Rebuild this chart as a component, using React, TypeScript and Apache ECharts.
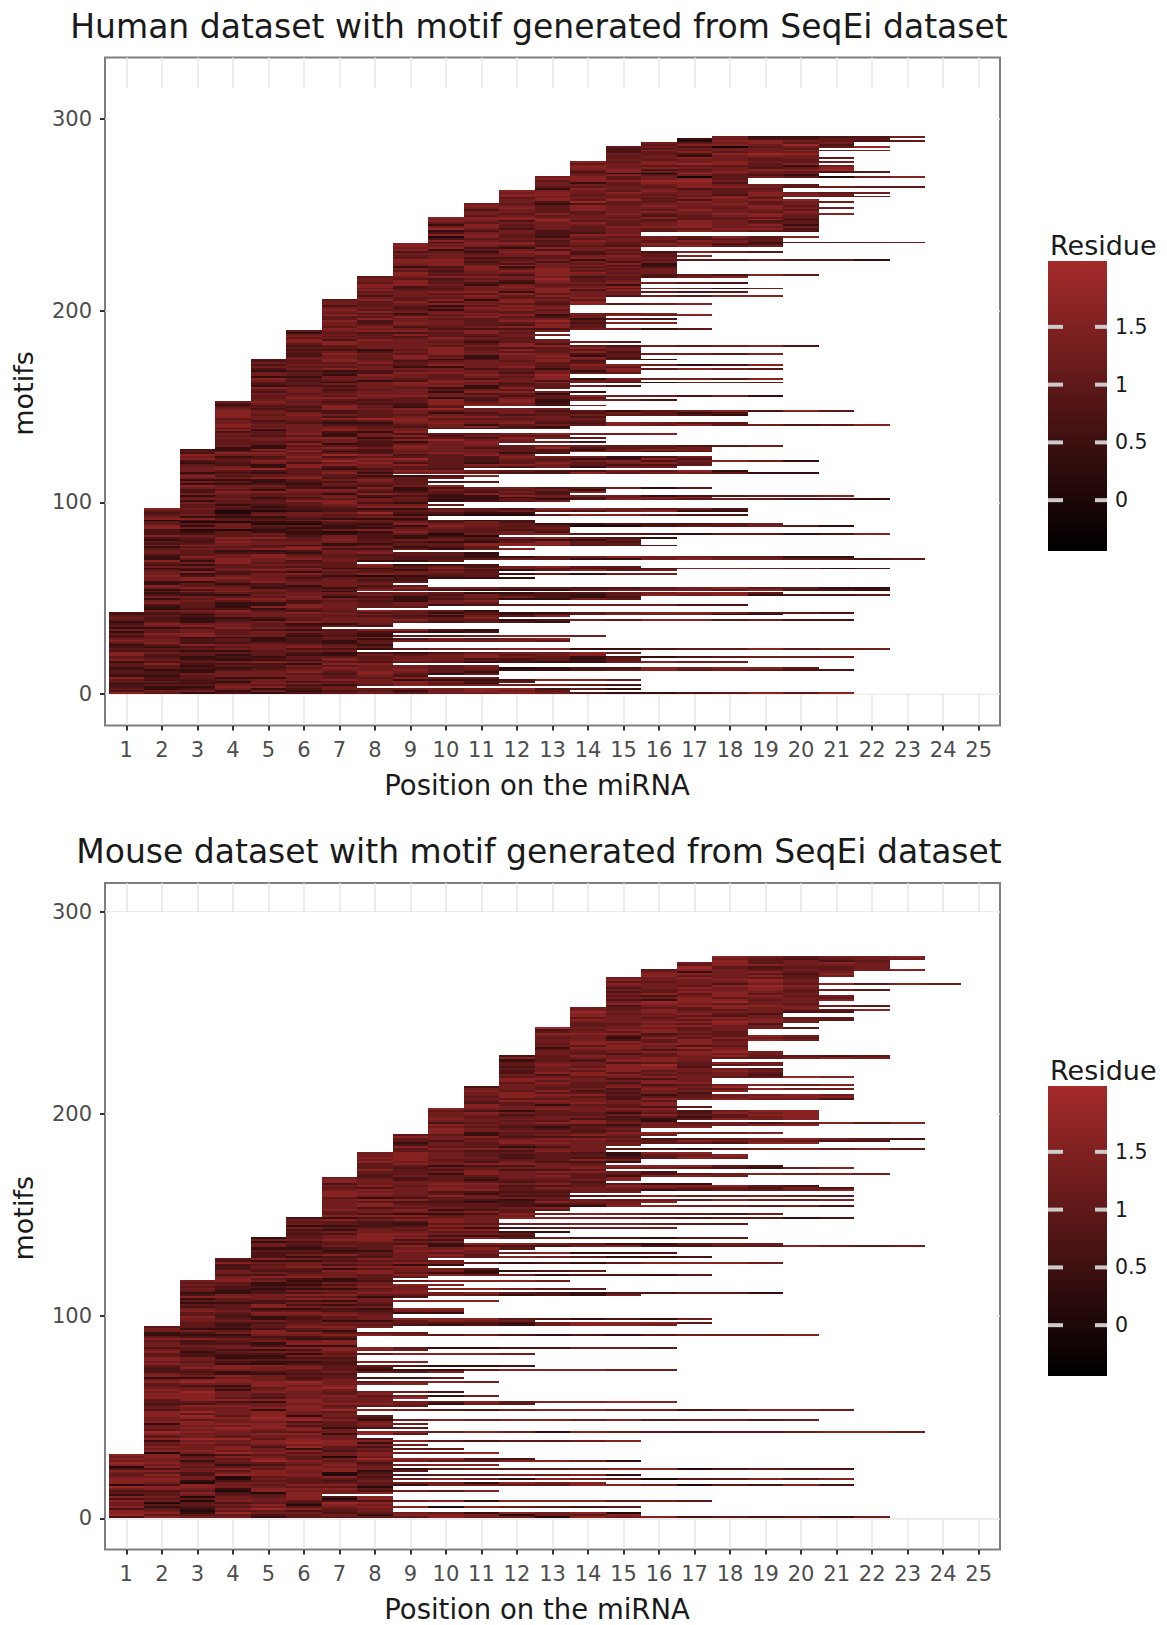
import React, { useEffect, useRef } from "react";
import * as echarts from "echarts";

const positions = [1, 2, 3, 4, 5, 6, 7, 8, 9, 10, 11, 12, 13, 14, 15, 16, 17, 18, 19, 20, 21, 22, 23, 24, 25];
const yTicks = [0, 100, 200, 300];
const legendTicks = [0, 0.5, 1, 1.5];

// number of rows (from y = 0) in which each position can be filled
const humanTops = [43, 97, 128, 153, 175, 190, 206, 218, 235, 249, 256, 263, 270, 278, 286, 288, 290, 291, 291, 291, 291, 291, 291];
const mouseTops = [32, 95, 118, 129, 139, 149, 169, 181, 190, 203, 214, 229, 243, 253, 268, 272, 275, 278, 278, 278, 278, 278, 278, 278];

// last filled position of every row, top row first
const humanEnds = [23,22,23,21,21,22,20,22,20,20,20,21,20,21,20,21,21,21,22,20,20,23,18,18,18,20,23,19,19,22,21,22,19,20,21,20,20,21,20,20,21,20,20,20,20,20,20,20,20,20,15,15,20,19,19,23,19,19,15,15,19,16,17,16,22,16,16,16,16,16,16,16,20,18,15,15,18,15,15,19,15,18,15,19,14,14,14,17,13,13,13,13,16,17,14,16,14,16,14,14,17,13,12,13,12,12,13,15,13,20,15,15,15,19,15,15,16,14,14,19,15,19,15,15,13,13,19,15,19,13,15,13,12,14,13,19,14,16,13,13,14,10,13,21,18,18,14,14,
14,18,22,13,13,9,9,16,13,14,12,14,11,19,17,17,17,13,12,17,17,20,17,17,16,10,18,20,8,11,10,9,11,9,10,17,14,14,13,21,17,22,13,9,10,9,18,18,12,18,9,9,12,12,19,21,13,13,13,22,11,16,15,15,15,16,11,12,8,11,11,21,23,10,7,11,15,22,16,11,16,11,12,9,9,8,9,22,22,7,19,22,15,15,11,11,18,9,7,11,21,19,13,11,21,13,8,8,6,11,11,8,14,8,13,13,8,8,8,22,7,15,14,21,15,15,18,8,11,20,21,11,11,9,11,15,12,11,15,7,15,13,21];

const mouseEnds = [23,23,22,22,22,22,23,21,21,21,20,20,20,24,20,20,22,20,20,21,21,21,20,20,22,20,22,21,19,19,21,21,20,19,19,20,18,18,18,20,20,20,18,18,18,18,18,19,19,22,22,17,19,19,17,19,19,19,19,21,17,17,17,21,18,21,18,17,21,21,21,16,16,16,17,16,20,20,20,20,20,16,23,20,17,15,15,19,16,15,23,22,20,15,14,23,14,17,18,18,15,15,14,19,21,14,16,22,18,15,15,14,17,20,21,21,15,13,21,13,21,16,15,21,13,13,12,19,12,21,11,11,18,11,16,11,13,12,12,18,10,10,19,23,12,11,16,11,17,9,10,19,10,9,11,14,11,17,9,
8,13,8,10,9,14,9,19,15,9,8,11,8,8,8,10,10,10,8,8,17,12,17,16,8,7,7,9,20,7,7,7,7,7,16,9,7,12,7,7,7,9,7,12,8,16,10,7,7,10,7,11,9,7,7,7,10,8,11,9,8,16,12,9,7,21,7,7,8,8,20,8,9,8,9,7,23,9,7,8,15,8,9,8,10,8,11,8,8,12,15,8,11,8,21,9,8,15,8,21,8,14,21,8,8,11,8,6,8,8,17,8,8,15,8,8,15,15,22];

// one digit per cell, row after row from the top, left to right (0 = darkest, 9 = brightest)
const humanCells = `
633446 364455 277654 5656 7565 77684 5641 5658 456 6654 756 67664 57566 65478 7563
67656 76565 65665 5757 67656 567875 77655 55367 6766 45767 456 778 476 6765 45520
86566 75654 36756 15652 6777 56755 7788 66357 74665 676655 565776 56553 76645 57665 76566 7676
65765 677565 64776 76656 5766 565 766577 56758 54677 64855 76566 65345 66 75676 5767 6675
6757666 57664 65765 76656 655676 6576 575 75677 675 6566 45675 7776 6575 5556 778 674 558 3764
75557 64555 66756 76553 75665 6767 36756 577 76668 64656 55774 34645 6576 544 6644 6775 4772
7536 56575 74566 56645 5765 4765 7654 77565 56735 4567 67756 57644 76654 54675 66743 7677 3564
65453 77464 76566 56745 5566 65675 75644 57667 75563 65556 55377 46464 66754 6573 6768 6743 34736
564657 5765 65467 75667 566 77567 554 76645 475 56776 64546 7654 568 55675 64756 57543 66765 47763
6553 74567 66754 46677 5763 67556 6747 56773 76654 56655 75664 667 576 465 7765 565 5757 5737
6565 7467 5 765 67654 7567 4553 57666 4576 7755 36756 76655 65437 756 65776 45673 6767 557
6754657 65566 35474 66578 5647 6556 47765 66547 5574 56775 76644 44663 5567 7676 6354 45756
6575566 75645 46565 576 57476 65567 7665 3566 5576 66574 45665 6775 4656 7455 66754 57644 35757
55656 46765 57447 6576 7645 6657 4657 5367 3566 5763 66745 6756 3467 6534 5764 5657 4655 7566
655466 5576 65776 34765 5633 6756 5467 66645 36757 65343 45665 63765 44776 4655 65376 5768 3366 65
65775 6655 46736 6657 6453 47764 6655 36776 57643 6654 5667 66453 4466 73556 4765 6533 7556 456
5654 6566 37763 6566 66 45 35657 7664 5766 4635 7765 34655 6654 5747 3664 6754 5575 73466 5447
66434 576 45763 65547 5356 4576 78 66 6764 4565 6645 3567 4757 6645 6346 54653 4757 65
5654 5655 4376 6456 7766 456 6787 5556 6645 4576 6655 6543 36767 44765 5766 4456 3565 7675
64577 56654 6743 4767 6644 5573 6766 45643 7657 3645 5676 6754 5367 4655 6677 3454 76 5566
657 866 554 6436 7664 5573 45676 3554 7665 6655 4563 36767 6458 45564 3 7654 6665 43676 5548
3455 5557 6354 7755 4676 3476 66 87 45 7663 4745 5547 6634 67 5566 7854 6533 7445
76 86654 5567 4676 33464 6745 3575 67 5543 7767 57 7654 4566 3746 5554 6366 678 5345
4654 565 7765 44657 3343 5736 6544 75665 3356 6457 7 4565 3347 6677 4555 3335 6756 5344
6545 3343 6 55 7664 5467 6654 37346 6456 3545 3775 3655 6347 7664 4546 47 6655 3764 7543
5566 4433 7666 3456 6755 3473 6433 5457 7664 5565 3353 4765 6544 3355 776 5345 6655
57 4353 4566 6555 3457 7764 4443 3554 7765 6455 2234 5565 6546 7 3345 2 5668 4433 56
4 6655 3322 5775 4463 3355 6677 5443 33 2455 6 764 5345 2233 5564 6455 6 2243 7 665 3344
45673 6 55343 7655 2245 5653 7 6643 3356 5564 2234 6 7655 4543 5 3323 7556 4445 6 3345 2
6675543 55347 76554 6433 2457 75643 55 6754 3346 5575 6644 3355 4766 6543 3575 4456 66 3355
777 5567 6433 5567 7645 4355 5766 3455 6677 4453 5765 3346 66 5443 6755 3456 7554 5533 76
7655 4433 5676 6553 3357 67654 4565 3367 6655 4573 7646 3355 6755 5435 6657 3346 6554
565646 7553 4667 3357 6654 44 7765 3453 6766 5354 3575 6674 4355 6656 3467 5765 5353 6674
6653 2 3456 7764 5543 3367 6656 4433 5766 5535 3466 6755 4364 5676 3435 7665 5445 6755 33
34 6655 7543 3356 6657 4435 7765 3345 5665 6533 4456 7754 3366 5654 6443 5767 3445 6655 7343
5664 3435 7766 5345 3365 6656 4543 6775 3346 5665 4533 7656 3455 6664 4353 7765 5344 3566 6754
5765 3445 6676 4535 3356 7764 5434 3565 6756 4345 7663 3554 6665 4436 5764 3345 6655 7543 4356
6755 3465 7756 4435 3567 6654 5434 7665 3355 6765 4543 3476 6656 5435 7743 3565 6654 4345 7756
4534 6766 3435 5677 6453 3356 7664 5345 3465 6776 4534 3566 6655 7445 4353 5766 6534 3456 7655
5566 4435 6677 3345 5756 6443 3566 7655 5434 3456 6767 4535 3365 6756 7543 4355 5667 6534 3456
6665 3345 7566 4453 5765 3336 6766 4545 3456 7654 5534 3367 6657 4443 7755 3546 5665 6354 3457
6656 2344 7677 5433 4566 6755 3345 7565 4454 3667 5765 3446 6654 7535 3356 6656 4745 3365 5766
5445 6676 3334 7765 5436 4567 6453 3357 7666 4345 5654 3576 6665 4433 7756 5346 3465 6677 4534
6636 3453 6765 7534 3456 5667 6433 4575 7656 3345 6764 5434 4366 7755 3545 6656 4443 3567 7654
`.replace(/\s/g, "");

const mouseCells = `
7656 67654 566 7564 5675 6765 77 6668 545 5657 6565 676 36756 7765 4775 6756 6676 5576
67865 56676 7664 6575 76665 7874 6767 6656 67565 45776 5675 75654 67756 6675 66543 7756
76 8786 6776 5654 67776 65655 5767 6575 5655 7867 66 6447 56754 76654 6565 7765 57665 6765
6677 8765 5657 4567 76686 6656 65457 75656 5765 77 7455 66456 5765 6375 76566 45757 6677
57 6576 77 6657 6453 7768 6566 4576 56778 6654 5766 45765 6755 4575 6676 5567 6354 7765
6645 5765 7678 5564 6577 4567 7766 54657 56764 7756 5656 4775 6645 65676 5587 7764 4675
6676 5754 7766 5645 6767 4655 76686 65647 5576 6757 4566 7675 5464 6777 5356 6765 7654 5567
7765 5647 6766 4577 6654 5676 7753 5577 6665 4576 6767 7543 5656 4677 6765 5354 7676 6455
6755 7765 5664 5356 7766 6443 5767 6655 7534 5677 6656 4575 7765 5436 6677 6543 5567 7654
5676 6645 7355 5776 6755 3567 6676 7444 5565 6776 4556 7654 5467 6655 7665 4436 5776 6554
7746 5566 6755 3465 7766 6543 5676 7555 4476 6765 5543 7767 6545 5356 7776 6454 4576 6755
5576 7664 6443 5767 7655 5344 6677 7545 4656 6766 5436 7754 6445 5567 6776 4553 7655 5456
7676 4655 6753 7766 5454 6657 7645 3556 7766 6545 4466 7767 5533 6756 6445 7777 5454 6765
7666 5546 4676 7755 6534 5567 7664 4446 6776 5355 7657 6444 5766 7655 3456 6667 7543 5656
5766 7654 4347 6676 7555 4456 6765 5433 7766 5646 4565 6776 7345 5566 6755 4334 7676 5546
7775 6643 4566 7766 5455 3467 6776 5544 7665 4355 6677 6553 3447 7655 6534 5666 4365 7756
6655 3344 7766 5567 6434 3567 7675 6443 5566 7744 3456 6665 5543 7765 3356 6646 5734 4467
4455 7656 3345 6675 5533 7764 4456 5667 3344 6756 7543 4466 5765 3345 7657 6433 4556 7666
6765 3435 7776 4564 5334 6777 7455 3566 5644 7766 3345 6656 7533 4466 5776 6344 3567 7655
7543 5676 3345 7776 5534 6665 3346 7754 4567 6643 3356 7765 5534 6667 3344 5776 7543 4455
3466 7755 6534 3677 6553 4356 7765 5443 6777 3346 6555 7434 4576 6665 3343 7776 5544 6655
7765 3354 6676 7434 5665 3456 7775 4343 6666 5335 7665 4456 6544 3677 7553 5655 4343 6776
5545 7766 3345 6665 7433 4677 5553 3366 7765 6434 3566 6754 4445 7765 3354 5667 6443 7766
6433 4567 7775 3344 6656 5434 7767 3566 6544 4355 7776 5433 6676 3344 7655 5565 4334 7776
3344 5677 6554 3344 7767 5445 6655 3335 7776 6443 4566 5765 3344 7676 5533 6645 4456 7765
6787 7865 6765 6 6776 7754 3767 6655 7876 3676 6867 6566 4776 5657 7765 6756 3677 5466 6857
7776 6554 3766 6575 7787 4456 6776 3655 7767 5556 6677 6466 3787 6546 7766 4 5776 7867 6575
6766 7857 3656 7787 5465 6787 3676 7767 5665 6776 6456 3777 6576 6667 4566 7877 3455 6767
6876 5567 7676 3765 4556 7767 6677 3855 6566 6788 5764 3667 7777 5455 6767 6787 3565 6676
6767 4854 6676 3565 5776 6745 2687 5676 6877 3456 6767 5765 2676 6575 6877 4466 3687 5665
5776 3875 5566 4766 3457 5677 2755 6766 4467 5776 3565 5677 2454 4776 5767 3565 4676 2457
4877 2545 5767 3666 2567 4776 2655 5676 3765 2557 5777 3455 4676 2665 5566 3767 2476 5775
3665 5776 2547 4877 6655 2676 3777 5445 2766 4657 5574 2767 3565 5776 2657 4745 5667 2776
2765 4467 3777 5656 2545 4876 5567 2767 3456 5677 2765 4545 3787 5676 2554 5677 3866 4565
3767 2855 5456 3777 2657 4766 3555 5766 2767 4545 3677 5676 2776 4456 3767 5645 2887 4655
2776 4654 3787 2465 4677 3776 5547 2767 3566 4667 2565 5877 3766 2555 4477 3766 2556 4767
`.replace(/\s/g, "");

const RESIDUE_MID = 1.15;
const RESIDUE_PER_DIGIT = 0.3;
const LEGEND_MIN = -0.44;
const LEGEND_MAX = 2.07;
const HIGH = [165, 42, 42];

function colorOf(v: number) {
  const t = Math.max(0, Math.min(1, (v - LEGEND_MIN) / (LEGEND_MAX - LEGEND_MIN)));
  return `rgb(${Math.round(HIGH[0] * t)},${Math.round(HIGH[1] * t)},${Math.round(HIGH[2] * t)})`;
}

function buildCells(ends: number[], tops: number[], digits: string) {
  const cells: number[][] = [];
  let p = 0;
  ends.forEach((end, i) => {
    const row = ends.length - 1 - i;
    let start = tops.findIndex((t) => row < t) + 1;
    if (start < 1) start = 1;
    for (let col = start; col <= end; col++) {
      const d = Number(digits[p % digits.length]);
      p++;
      cells.push([col, row, RESIDUE_MID + (d - 5.5) * RESIDUE_PER_DIGIT]);
    }
  });
  return cells;
}

const tileItem = (params: any, api: any) => {
  const col = api.value(0);
  const row = api.value(1);
  const a = api.coord([col - 0.5, row + 1]);
  const b = api.coord([col + 0.5, row]);
  const x0 = Math.round(a[0]);
  const x1 = Math.round(b[0]);
  const y0 = Math.round(a[1]);
  const y1 = Math.round(b[1]);
  return {
    type: "rect",
    shape: { x: x0, y: y0, width: x1 - x0, height: y1 - y0 },
    style: { fill: colorOf(api.value(2)) },
  };
};

const whiteItem = (params: any, api: any) => {
  const a = api.coord([api.value(0), api.value(3)]);
  const b = api.coord([api.value(2), api.value(1)]);
  return {
    type: "rect",
    shape: { x: a[0], y: a[1], width: b[0] - a[0], height: b[1] - a[1] },
    style: { fill: "#ffffff" },
  };
};

const FONT = "DejaVu Sans";
const TITLE_STYLE = { fontFamily: FONT, fontSize: 33, fontWeight: "normal" as const, color: "#1a1a1a" };

function panelAxes(gridIndex: number, yMin: number, yMax: number) {
  const x = {
    type: "value" as const,
    gridIndex,
    min: 0.4,
    max: 25.6,
    name: "Position on the miRNA",
    nameLocation: "middle" as const,
    nameGap: 45,
    nameTextStyle: { fontFamily: FONT, fontSize: 27.5, color: "#1a1a1a", padding: [0, 31, 0, 0] },
    axisLine: { show: false, onZero: false },
    axisTick: { show: true, customValues: positions, length: 5, lineStyle: { color: "#333333", width: 2 } },
    axisLabel: { show: true, customValues: positions, margin: 14, fontFamily: FONT, fontSize: 21, color: "#4d4d4d" },
    splitLine: { show: true, lineStyle: { color: "#e6e6e6", width: 1.5 } },
  };
  const y = {
    type: "value" as const,
    gridIndex,
    min: yMin,
    max: yMax,
    name: "motifs",
    nameLocation: "middle" as const,
    nameGap: 68,
    nameTextStyle: { fontFamily: FONT, fontSize: 27, color: "#1a1a1a", padding: [0, 4, 0, 0] },
    axisLine: { show: false, onZero: false },
    axisTick: { show: true, customValues: yTicks, length: 5, lineStyle: { color: "#333333", width: 2 } },
    axisLabel: { show: true, customValues: yTicks, margin: 13, fontFamily: FONT, fontSize: 21, color: "#4d4d4d" },
    splitLine: { show: true, lineStyle: { color: "#e6e6e6", width: 1.5 } },
  };
  return { x, y };
}

function legend(offset: number) {
  const barX = 1048;
  const barW = 59;
  const top = 261 + offset;
  const h = 290;
  const yOf = (v: number) => top + ((LEGEND_MAX - v) / (LEGEND_MAX - LEGEND_MIN)) * h;
  const els: any[] = [
    {
      type: "text",
      x: 1050,
      y: 245 + offset,
      style: { text: "Residue", fontFamily: FONT, fontSize: 27, fill: "#1a1a1a", textAlign: "left", textVerticalAlign: "middle" },
    },
    {
      type: "rect",
      shape: { x: barX, y: top, width: barW, height: h },
      style: {
        fill: new echarts.graphic.LinearGradient(0, 0, 0, 1, [
          { offset: 0, color: "#A52A2A" },
          { offset: 1, color: "#000000" },
        ]),
      },
    },
  ];
  legendTicks.forEach((v) => {
    const y = yOf(v);
    els.push({ type: "rect", shape: { x: barX, y: y - 2, width: 15, height: 4 }, style: { fill: "#cccccc" } });
    els.push({ type: "rect", shape: { x: barX + barW - 12, y: y - 2, width: 12, height: 4 }, style: { fill: "#cccccc" } });
    els.push({
      type: "text",
      x: 1115,
      y,
      style: { text: String(v), fontFamily: FONT, fontSize: 20.5, fill: "#1a1a1a", textAlign: "left", textVerticalAlign: "middle" },
    });
  });
  return els;
}

export default function App() {
  const ref = useRef<HTMLDivElement>(null);
  useEffect(() => {
    const chart = echarts.init(ref.current!, undefined, { renderer: "svg" });
    const a = panelAxes(0, -16.4, 332);
    const b = panelAxes(1, -15.4, 314.3);
    chart.setOption({
      animation: false,
      backgroundColor: "#ffffff",
      title: [
        { text: "Human dataset with motif generated from SeqEi dataset", left: 534, top: 5, textAlign: "center", textStyle: TITLE_STYLE },
        { text: "Mouse dataset with motif generated from SeqEi dataset", left: 534, top: 830, textAlign: "center", textStyle: TITLE_STYLE },
      ],
      grid: [
        { left: 105, width: 895, top: 57.5, height: 668, show: true, backgroundColor: "#ffffff", borderColor: "#7f7f7f", borderWidth: 2, containLabel: false },
        { left: 105, width: 895, top: 883, height: 666.5, show: true, backgroundColor: "#ffffff", borderColor: "#7f7f7f", borderWidth: 2, containLabel: false },
      ],
      xAxis: [a.x, b.x],
      yAxis: [a.y, b.y],
      series: [
        { type: "custom", xAxisIndex: 0, yAxisIndex: 0, silent: true, renderItem: whiteItem, data: [[0.5, 0.3, 25.5, 316]], encode: { x: [0, 2], y: [1, 3] }, clip: true },
        { type: "custom", xAxisIndex: 1, yAxisIndex: 1, silent: true, renderItem: whiteItem, data: [[0.5, 0.3, 25.5, 300]], encode: { x: [0, 2], y: [1, 3] }, clip: true },
        { type: "custom", name: "Human", xAxisIndex: 0, yAxisIndex: 0, silent: true, renderItem: tileItem, data: buildCells(humanEnds, humanTops, humanCells), encode: { x: 0, y: 1 }, clip: true },
        { type: "custom", name: "Mouse", xAxisIndex: 1, yAxisIndex: 1, silent: true, renderItem: tileItem, data: buildCells(mouseEnds, mouseTops, mouseCells), encode: { x: 0, y: 1 }, clip: true },
      ],
      graphic: [...legend(0), ...legend(825)],
    });
    return () => chart.dispose();
  }, []);
  return <div ref={ref} style={{ position: "absolute", left: 0, top: 0, width: 1167, height: 1625 }} />;
}
